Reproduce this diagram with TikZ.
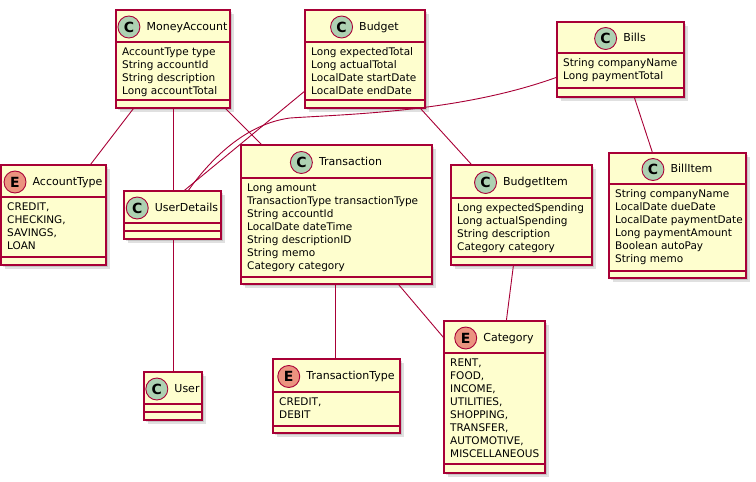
\documentclass[tikz,border=0pt]{standalone}
\usepackage{fontspec}
\setmainfont{DejaVu Sans}
\usetikzlibrary{fit,positioning}
\definecolor{boxfill}{HTML}{FEFECE}
\definecolor{umlred}{HTML}{A80036}
\definecolor{cgreen}{HTML}{ADD1B2}
\definecolor{ered}{HTML}{EB937F}
\tikzset{
  umlbox/.style={draw=umlred, fill=boxfill, line width=1.2pt, inner sep=0pt},
  shadowbox/.style={fill=black, opacity=0.12},
  sepline/.style={draw=umlred, line width=1.2pt},
  link/.style={draw=umlred, line width=0.9pt},
  titletext/.style={font=\fontsize{11}{13}\selectfont, inner sep=0pt, text height=8.5pt, text depth=2.5pt, anchor=base},
  attrtext/.style={font=\fontsize{10.5}{13}\selectfont, inner sep=0pt, anchor=base west},
  iconC/.style={circle, draw=umlred, fill=cgreen, line width=0.9pt, minimum size=22pt, inner sep=0pt, font=\fontsize{14}{14}\selectfont\bfseries},
  iconE/.style={iconC, fill=ered},
}
% #1 name, #2 left, #3 top, #4 right, #5 bottom, #6 header y, #7 separator y, #8 C/E, #9 title
\newcommand{\umlclass}[9]{%
  \fill[shadowbox] (#2+4,#3+4) rectangle (#4+4,#5+4);
  \fill[shadowbox] (#2+2,#3+2) rectangle (#4+2,#5+2);
  \node[umlbox, fit={(#2,#3) (#4,#5)}] (#1) {};
  \draw[sepline] (#2,#6) -- (#4,#6) (#2,#7) -- (#4,#7);
  \node[titletext] (#1-t) at ({(#2+#4)/2+14},{(#3+#6)/2+4}) {#9};
  \node[icon#8, left=6pt of #1-t] (#1-i) {#8};
}
% #1 name, #2 left, #3 header y, #4 list
\newcommand{\umlattrs}[4]{%
  \foreach \a [count=\i from 0] in {#4}
    \node[attrtext] (#1-a\i) at (#2+6,{#3+13.5+13*\i}) {\a};
}
\begin{document}
\begin{tikzpicture}[x=1pt,y=-1pt]
\useasboundingbox (0,0) rectangle (756,482);

\umlclass{ma}{116}{10}{230}{108}{42}{100}{C}{MoneyAccount}
\umlattrs{ma}{116}{42}{AccountType type, String accountId, String description, Long accountTotal}

\umlclass{bu}{305}{10}{425}{108}{42}{100}{C}{Budget}
\umlattrs{bu}{305}{42}{Long expectedTotal, Long actualTotal, LocalDate startDate, LocalDate endDate}

\umlclass{bi}{557}{22}{684}{97}{53}{88}{C}{Bills}
\umlattrs{bi}{557}{53}{String companyName, Long paymentTotal}

\umlclass{at}{1}{165}{106}{265}{197}{257}{E}{AccountType}
\umlattrs{at}{1}{197}{{CREDIT,},{CHECKING,},{SAVINGS,},LOAN}

\umlclass{ud}{124}{191}{221}{239}{223}{231}{C}{UserDetails}

\umlclass{tr}{241}{145}{432}{284}{178}{277}{C}{Transaction}
\umlattrs{tr}{241}{178}{Long amount, TransactionType transactionType, String accountId, LocalDate dateTime, String descriptionID, String memo, Category category}

\umlclass{bit}{451}{165}{592}{265}{198}{257}{C}{BudgetItem}
\umlattrs{bit}{451}{198}{Long expectedSpending, Long actualSpending, String description, Category category}

\umlclass{bli}{609}{153}{746}{278}{184}{271}{C}{BillItem}
\umlattrs{bli}{609}{184}{String companyName, LocalDate dueDate, LocalDate paymentDate, Long paymentAmount, Boolean autoPay, String memo}

\umlclass{us}{144}{372}{202}{420}{404}{412}{C}{User}

\umlclass{tt}{273}{359}{400}{433}{392}{426}{E}{TransactionType}
\umlattrs{tt}{273}{392}{{CREDIT,},DEBIT}

\umlclass{ca}{444}{321}{545}{473}{353}{464}{E}{Category}
\umlattrs{ca}{444}{353}{{RENT,},{FOOD,},{INCOME,},{UTILITIES,},{SHOPPING,},{TRANSFER,},{AUTOMOTIVE,},MISCELLANEOUS}

% connectors
\draw[link] ([xshift=18pt]ma.south west) -- ([xshift=-16pt]at.north east);
\draw[link] ([xshift=58pt]ma.south west) -- ([xshift=50pt]ud.north west);
\draw[link] ([xshift=-5pt]ma.south east) -- ([xshift=21pt]tr.north west);
\draw[link] ([yshift=-82pt]bu.north west) -- ([xshift=61pt]ud.north west);
\draw[link] ([yshift=-56pt]bi.north west) .. controls (460,112) and (350,114) .. (290,118)
            .. controls (245,124) and (210,160) .. ([xshift=65pt]ud.north west);
\draw[link] ([xshift=-5pt]bu.south east) -- ([xshift=21pt]bit.north west);
\draw[link] ([xshift=78pt]bi.south west) -- ([xshift=44pt]bli.north west);
\draw[link] ([xshift=50pt]ud.south west) -- ([xshift=30pt]us.north west);
\draw[link] ([xshift=95pt]tr.south west) -- ([xshift=63pt]tt.north west);
\draw[link] ([xshift=-34pt]tr.south east) -- ([yshift=-17pt]ca.north west);
\draw[link] ([xshift=63pt]bit.south west) -- ([xshift=63pt]ca.north west);
\end{tikzpicture}
\end{document}
